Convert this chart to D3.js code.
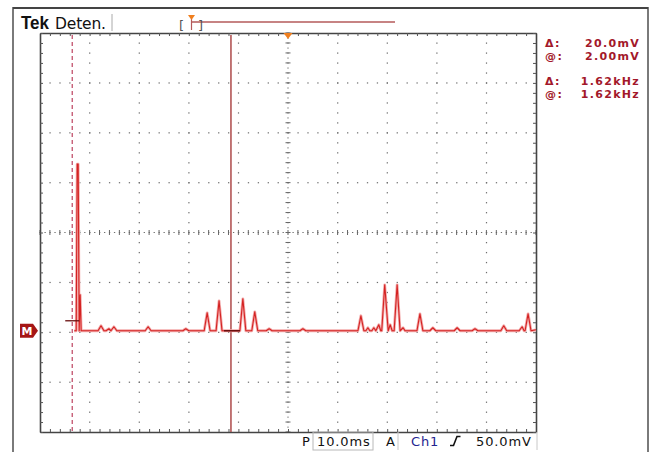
<!DOCTYPE html>
<html>
<head>
<meta charset="utf-8">
<script src="https://cdn.jsdelivr.net/npm/d3@7"></script>
<style>
  body { margin: 0; background: #fff; }
  svg { display: block; }
  text { font-family: "DejaVu Sans", sans-serif; }
</style>
</head>
<body>
<svg id="scope"></svg>
<script>
// Trace, in divisions (x: 0..10, y: -4..4)
const traceX = [0.69, 0.73, 0.75, 0.77, 0.79, 0.81, 0.83,
  1.17, 1.23, 1.29, 1.33, 1.39, 1.43, 1.49, 1.55,
  2.12, 2.18, 2.24, 2.88, 2.94, 3.00,
  3.31, 3.37, 3.43, 3.55, 3.61, 3.67,
  4.03, 4.09, 4.15, 4.27, 4.33, 4.39,
  4.56, 4.62, 4.68, 5.24, 5.30, 5.36,
  6.41, 6.47, 6.53, 6.57, 6.61, 6.65,
  6.69, 6.73, 6.77, 6.83, 6.87,
  6.89, 6.95, 7.02, 7.06, 7.10,
  7.14, 7.20, 7.26, 7.32, 7.36,
  7.60, 7.66, 7.72, 7.86, 7.92, 7.98,
  8.35, 8.41, 8.47, 8.71, 8.77, 8.83,
  9.29, 9.35, 9.41, 9.66, 9.72, 9.76,
  9.78, 9.84, 9.90, 10.0];
const traceY = [-1.97, -1.97, 1.37, 1.37, -1.97, -1.25, -1.97,
  -1.97, -1.87, -1.97, -1.97, -1.93, -1.97, -1.89, -1.97,
  -1.97, -1.89, -1.97, -1.97, -1.93, -1.97,
  -1.97, -1.61, -1.97, -1.97, -1.37, -1.97,
  -1.97, -1.33, -1.97, -1.97, -1.59, -1.97,
  -1.97, -1.93, -1.97, -1.97, -1.93, -1.97,
  -1.97, -1.67, -1.97, -1.97, -1.91, -1.97,
  -1.97, -1.91, -1.97, -1.85, -1.97,
  -1.97, -1.05, -1.97, -1.85, -1.97,
  -1.97, -1.05, -1.97, -1.91, -1.97,
  -1.97, -1.63, -1.97, -1.97, -1.91, -1.97,
  -1.97, -1.91, -1.97, -1.97, -1.93, -1.97,
  -1.97, -1.87, -1.97, -1.97, -1.89, -1.97,
  -1.97, -1.63, -1.97, -1.95];

// Cursors and readouts
const cursorDashed = 0.65;
const cursorSolid = 3.85;
const cursorLevels = [-1.77, -1.97];
const readoutLabels = ['\u0394:', '@:', '\u0394:', '@:'];
const readoutValues = ['20.0mV', '2.00mV', '1.62kHz', '1.62kHz'];

const width = 651;
const height = 452;
const grat = { left: 40, right: 536, top: 33, bottom: 432 };

const svg = d3.select('#scope')
  .attr('width', width)
  .attr('height', height);

const x = d3.scaleLinear().domain([0, 10]).range([grat.left, grat.right]);
const y = d3.scaleLinear().domain([-4, 4]).range([grat.bottom, grat.top]);

// Outer frame
svg.append('path')
  .attr('d', `M13,452 V8 H648 V452`)
  .attr('fill', 'none')
  .attr('stroke', '#7a7a7a')
  .attr('stroke-width', 2);
svg.append('line')
  .attr('x1', 13).attr('x2', 648).attr('y1', 8).attr('y2', 8)
  .attr('stroke', '#333').attr('stroke-width', 1.5);

// Header
svg.append('text').attr('x', 21).attr('y', 29)
  .style('font-family', '"Liberation Sans", sans-serif')
  .style('font-weight', 'bold').style('font-size', '18px')
  .attr('textLength', 28).attr('lengthAdjust', 'spacingAndGlyphs')
  .attr('fill', '#111').text('Tek');
svg.append('text').attr('x', 55).attr('y', 29)
  .style('font-size', '15.5px').attr('fill', '#111')
  .attr('textLength', 51).text('Deten.');
svg.append('line')
  .attr('x1', 112).attr('x2', 112).attr('y1', 14).attr('y2', 31)
  .attr('stroke', '#aaa');

// Record position indicator
svg.append('line')
  .attr('x1', 192).attr('x2', 395).attr('y1', 22).attr('y2', 22)
  .attr('stroke', '#b45a5a').attr('stroke-width', 1.5);
svg.append('text').attr('x', 179).attr('y', 30)
  .style('font-size', '13px').attr('fill', '#555').text('[');
svg.append('text').attr('x', 198).attr('y', 30)
  .style('font-size', '13px').attr('fill', '#555').text(']');
svg.append('line')
  .attr('x1', 191.5).attr('x2', 191.5).attr('y1', 16).attr('y2', 30)
  .attr('stroke', '#b45a5a').attr('stroke-width', 1.2);
svg.append('path')
  .attr('d', 'M188,15 H195 L191.5,20 Z')
  .attr('fill', '#f07f1e');

// Graticule: dotted division lines
const gridDots = svg.append('g').attr('fill', '#6e6e6e');
const minor = d3.range(0, 10.001, 0.2);
const minorY = d3.range(-4, 4.001, 0.2);
[1, 2, 3, 4, 6, 7, 8, 9].forEach(gx => {
  gridDots.selectAll(null).data(minorY.slice(1, -1)).enter().append('rect')
    .attr('x', x(gx) - 0.5).attr('y', d => y(d) - 0.5)
    .attr('width', 1.2).attr('height', 1.3);
});
[-3, -2, -1, 1, 2, 3].forEach(gy => {
  gridDots.selectAll(null).data(minor.slice(1, -1)).enter().append('rect')
    .attr('x', d => x(d) - 0.5).attr('y', y(gy) - 0.5)
    .attr('width', 1.3).attr('height', 1.2);
});

// Centre lines: fine dots plus tick marks
const fineX = d3.range(0, 10.001, 0.1);
const fineY = d3.range(-4, 4.001, 0.1);
gridDots.selectAll(null).data(fineX).enter().append('rect')
  .attr('x', d => x(d) - 0.5).attr('y', y(0) - 0.5)
  .attr('width', 1.3).attr('height', 1);
gridDots.selectAll(null).data(fineY).enter().append('rect')
  .attr('x', x(5) - 0.5).attr('y', d => y(d) - 0.5)
  .attr('width', 1).attr('height', 1.3);

const centreTicks = svg.append('g').attr('stroke', '#666');
centreTicks.selectAll(null).data(minor).enter().append('line')
  .attr('x1', d => x(d)).attr('x2', d => x(d))
  .attr('y1', y(0) - 2.5).attr('y2', y(0) + 2.5);
centreTicks.selectAll(null).data(minorY).enter().append('line')
  .attr('y1', d => y(d)).attr('y2', d => y(d))
  .attr('x1', x(5) - 2.5).attr('x2', x(5) + 2.5);

// Graticule border with inward ticks
const borderAxes = [
  [d3.axisBottom(x).tickValues(minor), `translate(0,${grat.top})`],
  [d3.axisTop(x).tickValues(minor), `translate(0,${grat.bottom})`],
  [d3.axisRight(y).tickValues(minorY), `translate(${grat.left},0)`],
  [d3.axisLeft(y).tickValues(minorY), `translate(${grat.right},0)`]
];
borderAxes.forEach(([axis, tr]) => {
  const g = svg.append('g').attr('transform', tr)
    .call(axis.tickSizeInner(3).tickSizeOuter(0).tickFormat(''));
  g.select('.domain').attr('stroke', '#444').attr('stroke-width', 1.6);
  g.selectAll('.tick line').attr('stroke', '#555');
});

// Trigger position marker
svg.append('path')
  .attr('d', `M${x(5) - 4.5},${grat.top} H${x(5) + 4.5} L${x(5)},${grat.top + 6} Z`)
  .attr('fill', '#f07f1e');

// Cursors
svg.append('line')
  .attr('x1', x(cursorDashed)).attr('x2', x(cursorDashed))
  .attr('y1', grat.top + 2).attr('y2', grat.bottom)
  .attr('stroke', '#c2506b').attr('stroke-width', 1.3)
  .attr('stroke-dasharray', '4,3');
svg.append('line')
  .attr('x1', x(cursorSolid)).attr('x2', x(cursorSolid))
  .attr('y1', grat.top + 2).attr('y2', grat.bottom)
  .attr('stroke', '#ad4a4a').attr('stroke-width', 1.5);

// Trace: soft glow under a bright core
const points = traceX.map((d, i) => [d, traceY[i]]);
const line = d3.line().x(d => x(d[0])).y(d => y(d[1]));
svg.append('path').datum(points)
  .attr('d', line).attr('fill', 'none')
  .attr('stroke', '#f3aaaa').attr('stroke-width', 2.8)
  .attr('stroke-linejoin', 'round');
svg.append('path').datum(points)
  .attr('d', line).attr('fill', 'none')
  .attr('stroke', '#d42222').attr('stroke-width', 1.1)
  .attr('stroke-linejoin', 'round');

// Cursor level marks
svg.append('line')
  .attr('x1', x(cursorDashed) - 7).attr('x2', x(cursorDashed) + 7)
  .attr('y1', y(cursorLevels[0])).attr('y2', y(cursorLevels[0]))
  .attr('stroke', '#6a1010').attr('stroke-width', 1.3);
svg.append('line')
  .attr('x1', x(cursorSolid) - 7).attr('x2', x(cursorSolid) + 9)
  .attr('y1', y(cursorLevels[1])).attr('y2', y(cursorLevels[1]))
  .attr('stroke', '#6a1010').attr('stroke-width', 1.5);

// Channel ground marker
const my = y(-1.97);
svg.append('path')
  .attr('d', `M20,${my - 7} H33 L38,${my} L33,${my + 7} H20 Z`)
  .attr('fill', '#a51616');
svg.append('text').attr('x', 27).attr('y', my + 4.5)
  .attr('text-anchor', 'middle')
  .style('font-size', '11px').style('font-weight', 'bold')
  .attr('fill', '#fff').text('M');

// Cursor readouts
const readY = [47, 60, 85, 98];
svg.append('g').selectAll('text').data(readoutLabels).enter().append('text')
  .attr('x', 545).attr('y', (d, i) => readY[i])
  .style('font-size', '11px').style('font-weight', 'bold')
  .style('letter-spacing', '1.5px')
  .attr('fill', '#a3182a').text(d => d);
svg.append('g').selectAll('text').data(readoutValues).enter().append('text')
  .attr('x', 640).attr('y', (d, i) => readY[i])
  .attr('text-anchor', 'end')
  .style('font-size', '11px').style('font-weight', 'bold')
  .style('letter-spacing', '1.3px')
  .attr('fill', '#a3182a').text(d => d);

// Bottom status line
svg.append('rect').attr('x', 313).attr('y', grat.bottom)
  .attr('width', 60).attr('height', 18)
  .attr('fill', 'none').attr('stroke', '#b8b8b8');
svg.append('path')
  .attr('d', `M398,${grat.bottom + 18} V${grat.bottom} M537,${grat.bottom} V${grat.bottom + 18}`)
  .attr('stroke', '#c8c8c8').attr('fill', 'none');
const status = svg.append('g').style('font-size', '13px').attr('fill', '#111');
status.append('text').attr('x', 302).attr('y', 446).text('P');
status.append('text').attr('x', 317).attr('y', 446)
  .style('letter-spacing', '0.9px').text('10.0ms');
status.append('text').attr('x', 386).attr('y', 446).text('A');
status.append('text').attr('x', 411).attr('y', 446)
  .attr('fill', '#24248f').style('letter-spacing', '0.9px').text('Ch1');
status.append('text').attr('x', 476).attr('y', 446)
  .style('letter-spacing', '0.9px').text('50.0mV');
svg.append('path')
  .attr('d', 'M450,445.5 H453.5 L457,436.5 H460.5')
  .attr('fill', 'none').attr('stroke', '#111').attr('stroke-width', 1.6);
</script>
</body>
</html>
